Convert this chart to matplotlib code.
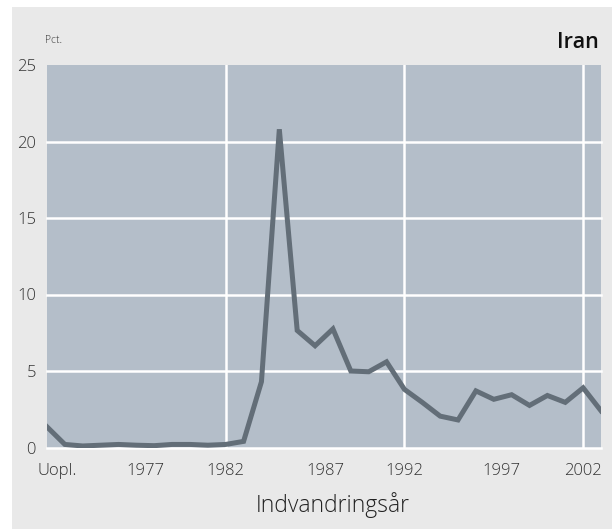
import matplotlib
matplotlib.use("Agg")
import matplotlib.pyplot as plt
from matplotlib.patches import Rectangle

categories = ["Uopl."] + [str(y) for y in range(1973, 2004)]
values = [1.35, 0.2, 0.1, 0.15, 0.2, 0.15, 0.12, 0.2, 0.2, 0.15, 0.2,
          0.4, 4.3, 20.8, 7.65, 6.65, 7.75, 5.0, 4.95, 5.6, 3.8,
          2.95, 2.05, 1.8, 3.7, 3.15, 3.45, 2.75, 3.4, 2.95, 3.9, 2.4]
tick_labels = ["Uopl.", "1977", "1982", "1987", "1992", "1997", "2002"]
tick_pos = [0.55, 5.5, 10, 15.55, 20, 25.45, 30]
yticks = [0, 5, 10, 15, 20, 25]
vgrid = [10, 20, 30]

plt.rcParams['font.family'] = ['Open Sans', 'DejaVu Sans']

W, H = 612, 529
fig = plt.figure(figsize=(W / 100, H / 100), dpi=100)
fig.patch.set_facecolor("white")
fig.patches.append(Rectangle((12 / W, 0), 1 - 12 / W, 1 - 7 / H,
                             transform=fig.transFigure, facecolor="#e9e9e9",
                             edgecolor="none", zorder=-5))

left, right, top, bottom = 47, 601, 65, 447.5
ax = fig.add_axes([left / W, 1 - bottom / H, (right - left) / W, (bottom - top) / H])
ax.set_zorder(2)
ax.set_facecolor("#b4bec9")
for s in ax.spines.values():
    s.set_visible(False)

x = list(range(len(categories)))
for y in yticks[:-1]:
    ax.axhline(y, color="white", lw=1.8, zorder=1, clip_on=False)
for v in vgrid:
    ax.axvline(v, color="white", lw=1.8, zorder=1)

ax.plot(x, values, color="#636e78", lw=3.6, solid_joinstyle="miter", zorder=3)

ax.set_xlim(0, len(categories) - 1)
ax.set_ylim(0, 25)
ax.set_xticks(tick_pos)
ax.set_xticklabels(tick_labels)
ax.set_yticks(yticks)
ax.tick_params(axis="both", length=0, colors="#333333", labelsize=12)
ax.tick_params(axis="x", pad=11)
ax.tick_params(axis="y", pad=8)
for lab in ax.get_xticklabels() + ax.get_yticklabels():
    lab.set_fontweight("light")

fig.text(333 / W, 1 - 505 / H, "Indvandringsår", ha="center", va="center",
         fontsize=16.5, color="#222222", fontweight="light")
fig.text(45 / W, 1 - 40 / H, "Pct.", ha="left", va="center", fontsize=7.5,
         color="#333333", fontweight="light")
fig.text(599 / W, 1 - 42 / H, "Iran", ha="right", va="center", fontsize=15.5,
         color="#111111", fontweight="semibold")

fig.savefig("out.png", dpi=100, facecolor=fig.get_facecolor())
